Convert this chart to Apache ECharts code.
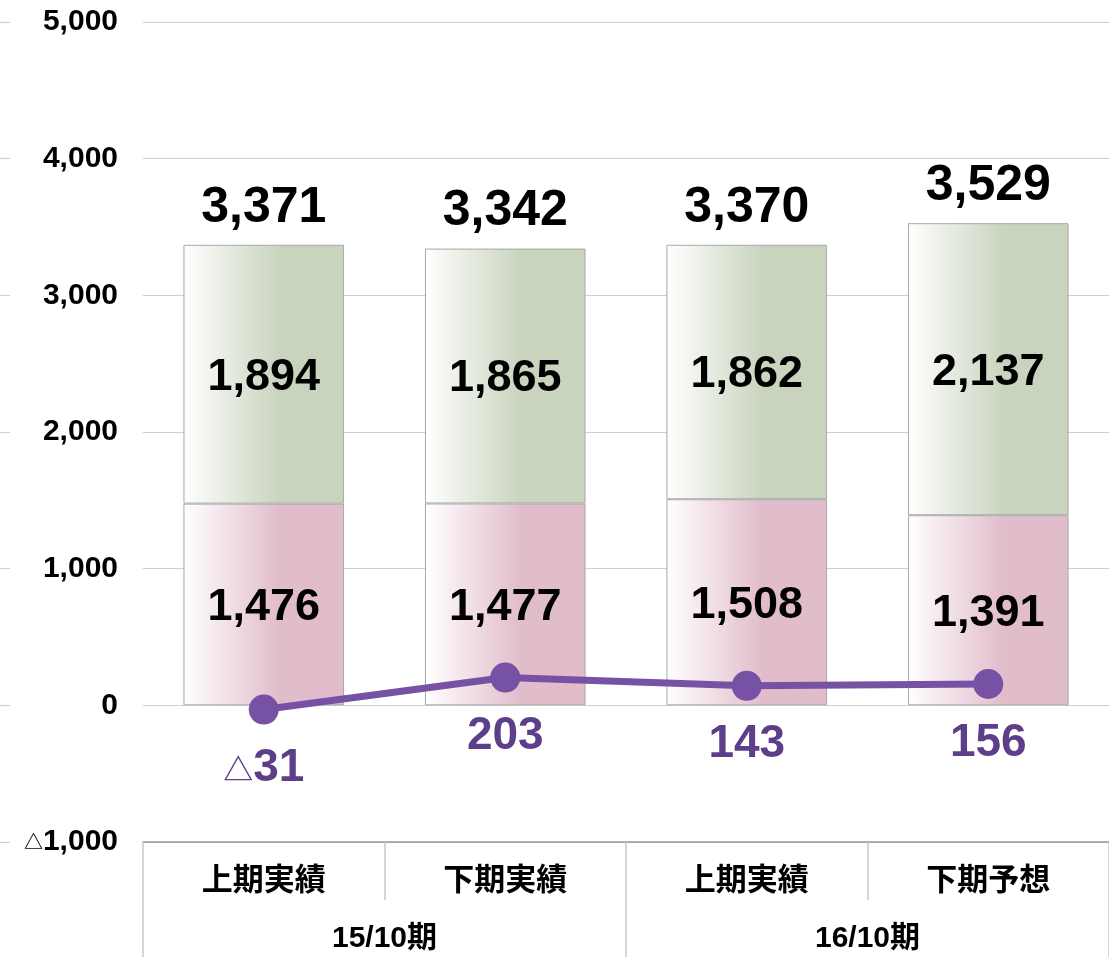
<!DOCTYPE html>
<html>
<head>
<meta charset="utf-8">
<script src="https://cdn.jsdelivr.net/npm/echarts@6/dist/echarts.min.js"></script>
<style>
  html, body { margin: 0; padding: 0; background: #fff; }
  #chart { width: 1109px; height: 957px; }
</style>
</head>
<body>
<div id="chart"></div>
<script>
const categories = ['上期実績', '下期実績', '上期実績', '下期予想']
const periods = ['15/10期', '16/10期']
const lowerValues = [1476, 1477, 1508, 1391]
const upperValues = [1894, 1865, 1862, 2137]
const totals = [3371, 3342, 3370, 3529]
const lineValues = [-31, 203, 143, 156]

const FONT = "'Liberation Sans', 'Noto Sans CJK JP', Arial, sans-serif"
const TRI = "'Noto Sans CJK JP', sans-serif"

const fmt = (v) => Math.abs(v).toLocaleString('en-US')
const grad = (c) => ({
  type: 'linear', x: 0, y: 0, x2: 1, y2: 0,
  colorStops: [
    { offset: 0, color: '#ffffff' },
    { offset: 0.6, color: c },
    { offset: 1, color: c },
  ],
})

const chart = echarts.init(document.getElementById('chart'))
const option = {
  backgroundColor: '#fff',
  animation: false,
  textStyle: { fontFamily: FONT },
  grid: { left: 143, right: 0, top: 22, bottom: 115 },
  xAxis: [
    {
      type: 'category',
      data: categories,
      position: 'bottom',
      axisLine: { onZero: false, lineStyle: { color: '#999', width: 1.5 } },
      axisTick: { show: true, length: 58, lineStyle: { color: '#c8c8c8', width: 1.5 } },
      axisLabel: {
        margin: 24, fontSize: 31, fontWeight: 'bold', color: '#000', fontFamily: FONT,
      },
    },
    {
      type: 'category',
      data: periods,
      position: 'bottom',
      axisLine: { show: false, onZero: false },
      axisTick: { show: true, length: 116, lineStyle: { color: '#c8c8c8', width: 1.5 } },
      axisLabel: {
        margin: 82, fontSize: 30, fontWeight: 'bold', color: '#000', fontFamily: FONT,
      },
    },
  ],
  yAxis: [
    {
      type: 'value',
      min: -1000,
      max: 5000,
      interval: 1000,
      axisLine: { show: false },
      axisTick: { show: false },
      splitLine: { lineStyle: { color: '#cfcfcf', width: 1.2 } },
      axisLabel: {
        margin: 25,
        formatter: (v) => (v < 0 ? '{d|△}' + fmt(v) : fmt(v)),
        fontSize: 30, fontWeight: 'bold', color: '#000', fontFamily: FONT,
        rich: { d: { fontSize: 19, fontWeight: 'bold', color: '#000', fontFamily: TRI } },
      },
    },
    {
      type: 'value',
      min: -1000,
      max: 5000,
      interval: 1000,
      position: 'left',
      offset: 133,
      axisLine: { show: false },
      axisTick: { show: true, length: 10, lineStyle: { color: '#cfcfcf', width: 1.2 } },
      axisLabel: { show: false },
      splitLine: { show: false },
    },
  ],
  series: [
    {
      name: 'lower',
      type: 'bar',
      stack: 'total',
      barWidth: '66.5%',
      data: lowerValues,
      itemStyle: { color: grad('#e1bccb'), borderColor: '#a8a8a8', borderWidth: 1 },
      label: {
        show: true, position: 'inside', offset: [0, 3], formatter: (p) => fmt(p.value),
        fontSize: 45, fontWeight: 'bold', color: '#000', fontFamily: FONT,
      },
    },
    {
      name: 'upper',
      type: 'bar',
      stack: 'total',
      data: upperValues,
      itemStyle: { color: grad('#c9d4be'), borderColor: '#a8a8a8', borderWidth: 1 },
      label: {
        show: true, position: 'inside', offset: [0, 3], formatter: (p) => fmt(p.value),
        fontSize: 45, fontWeight: 'bold', color: '#000', fontFamily: FONT,
      },
    },
    {
      name: 'total',
      type: 'bar',
      stack: 'total',
      data: totals.map(() => 0),
      itemStyle: { color: 'transparent' },
      label: {
        show: true, position: 'top', distance: 12,
        formatter: (p) => fmt(totals[p.dataIndex]),
        fontSize: 50, fontWeight: 'bold', color: '#000', fontFamily: FONT,
      },
    },
    {
      name: 'profit',
      type: 'line',
      data: lineValues,
      z: 5,
      symbol: 'circle',
      symbolSize: 30,
      lineStyle: { color: '#7752a4', width: 7 },
      itemStyle: { color: '#7752a4' },
      label: {
        show: true, position: 'bottom', distance: 21,
        formatter: (p) => (p.value < 0 ? '{d|△}{v|' + fmt(p.value) + '}' : '{v|' + fmt(p.value) + '}'),
        rich: {
          v: { fontSize: 46, fontWeight: 'bold', color: '#5c3f88', fontFamily: FONT },
          d: { fontSize: 30, fontWeight: 'bold', color: '#5c3f88', fontFamily: TRI },
        },
      },
    },
  ],
}
chart.setOption(option)
</script>
</body>
</html>
